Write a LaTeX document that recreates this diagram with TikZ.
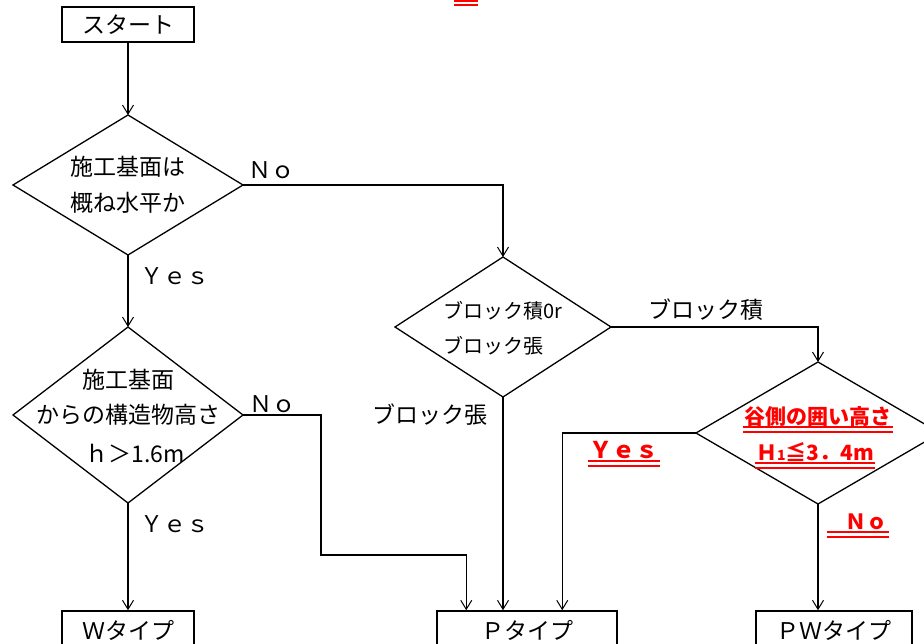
\documentclass[tikz,border=0pt]{standalone}
\usepackage{fontspec}
\setmainfont{Noto Sans CJK JP}
\usetikzlibrary{arrows.meta,shapes.geometric,calc}
\begin{document}
\begin{tikzpicture}[x=1pt,y=-1pt,
  every node/.style={font=\fontsize{23}{27}\selectfont},
  boxst/.style={draw,line width=1.5pt,rectangle,inner sep=0pt},
  dia/.style={draw,diamond,line width=1.3pt,inner sep=0pt,outer sep=0pt},
  conn/.style={line width=1.4pt},
  arr/.style={conn,-{Straight Barb[length=9pt,width=11pt,line width=1pt]}},
  redt/.style={text=red,font=\fontsize{21}{24}\selectfont\bfseries,inner xsep=1pt,inner ysep=0pt,anchor=base},
  redline/.style={draw=red,line width=1.7pt}
]
\useasboundingbox (0,0) rectangle (924,644);
\clip (0,0) rectangle (924,644);

% title fragment (cut off)
\draw[redline] (454,1) -- (478,1);
\draw[redline] (454,5) -- (478,5);

% boxes
\node[boxst,minimum width=132pt,minimum height=35pt] (start) at (128,24.5) {スタート};
\node[boxst,minimum width=132pt,minimum height=39pt] (wbox) at (128,630.5) {Ｗタイプ};
\node[boxst,minimum width=180pt,minimum height=39pt] (pbox) at (527,630.5) {Ｐタイプ};
\node[boxst,minimum width=156pt,minimum height=39pt] (pwbox) at (834,630.5) {ＰＷタイプ};

% diamonds
\node[dia,minimum width=230pt,minimum height=140pt] (d1) at (128,185) {};
\node[dia,minimum width=230pt,minimum height=176pt] (d3) at (128,415) {};
\node[dia,minimum width=216pt,minimum height=140pt] (d2) at (503,327) {};
\node[dia,minimum width=244pt,minimum height=142pt] (d4) at (818,433) {};

% diamond texts
\node (t1a) at (128,167) {施工基面は};
\node (t1b) at (128,203) {概ね水平か};
\node (t3a) at (128,380) {施工基面};
\node (t3b) at (128,415) {からの構造物高さ};
\node (t3c) at (135,453) {ｈ＞1.6m};
\node[anchor=west,font=\fontsize{20}{24}\selectfont,inner sep=0pt] (t2a) at (443,311) {ブロック積0r};
\node[anchor=west,font=\fontsize{20}{24}\selectfont,inner sep=0pt] (t2b) at (443,346) {ブロック張};

% labels
\node (no1) at (271,170) {Ｎｏ};
\node (yes1) at (175,276) {Ｙｅｓ};
\node (no2) at (272,404) {Ｎｏ};
\node (yes2) at (175,524) {Ｙｅｓ};
\node (lb1) at (706,310) {ブロック積};
\node (lb2) at (430,415) {ブロック張};

% red texts
\node[redt] (r1) at (818,424) {谷側の囲い高さ};
\node[redt] (r2) at (815,460) {Ｈ{\fontsize{14}{14}\selectfont 1}≦3．4m};
\node[redt,font=\fontsize{23}{26}\selectfont\bfseries] (ry) at (624,458) {Ｙｅｓ};
\node[redt] (rn) at (858,529) {\hspace{17pt}Ｎｏ};
\foreach \n in {r1,r2,ry,rn}{
  \draw[redline] ([yshift=-3pt]\n.base west) -- ([yshift=-3pt]\n.base east);
  \draw[redline] ([yshift=-8pt]\n.base west) -- ([yshift=-8pt]\n.base east);
}

% connectors
\coordinate (c1) at (321,555);
\coordinate (p1) at ($(pbox.north west)+(30,0)$);
\coordinate (p3) at ($(pbox.north west)+(126,0)$);
\draw[arr] (start.south) -- (d1.north);
\draw[arr] (d1.east) -| (d2.north);
\draw[arr] (d1.south) -- (d3.north);
\draw[arr] (d3.south) -- (wbox.north);
\draw[arr] (d3.east) -| (c1) -| (p1);
\draw[arr] (d2.south) -- (d2.south |- pbox.north);
\draw[arr] (d2.east) -| (d4.north);
\draw[arr] (d4.west) -| (p3);
\draw[arr] (d4.south) -- (d4.south |- pwbox.north);
\end{tikzpicture}
\end{document}
